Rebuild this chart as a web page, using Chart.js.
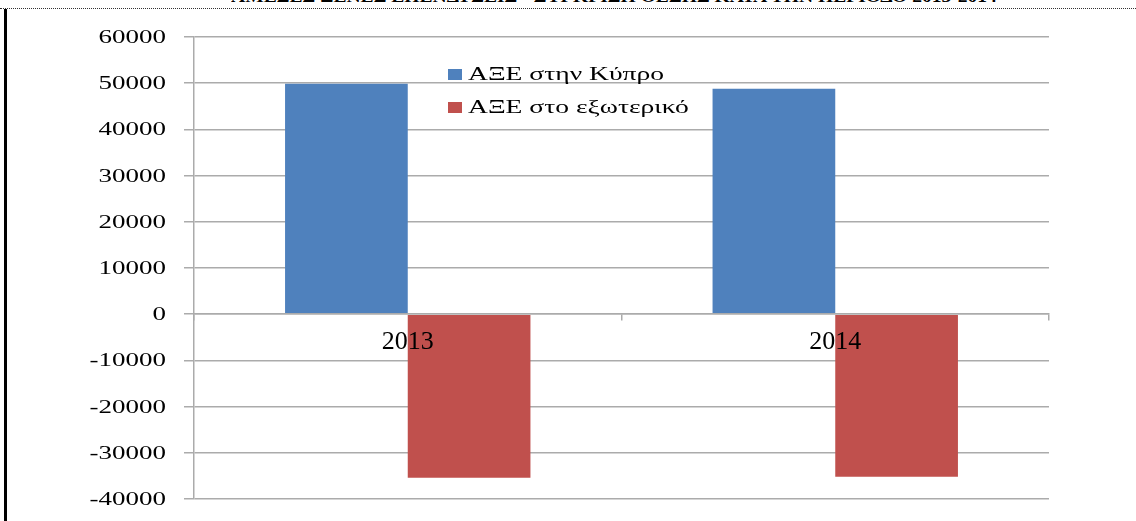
<!DOCTYPE html>
<html>
<head>
<meta charset="utf-8">
<script src="https://cdn.jsdelivr.net/npm/chart.js@4"></script>
<style>
  html, body { margin: 0; padding: 0; background: #fff; }
  body { width: 1136px; height: 521px; position: relative; overflow: hidden; }
  #title {
    position: absolute; left: 46px; width: 1136px; top: -12px;
    text-align: center; font: bold 17px "Liberation Serif", serif; line-height: 17px;
    color: #000; transform: scaleX(1.15); transform-origin: center top;
  }
  #dots { position: absolute; left: 0; top: 8px; width: 1136px; border-top: 1px dotted #333; }
  #bar { position: absolute; left: 4px; top: 9px; width: 3px; height: 512px; background: #000; }
  #wrap { position: absolute; left: 0; top: 0; width: 1136px; height: 521px; }
</style>
</head>
<body>
<div id="title">ΑΜΕΣΕΣ ΞΕΝΕΣ ΕΠΕΝΔΥΣΕΙΣ - ΣΥΓΚΡΙΣΗ ΘΕΣΗΣ ΚΑΤΑ ΤΗΝ ΠΕΡΙΟΔΟ 2013-2014</div>
<div id="dots"></div>
<div id="bar"></div>
<div id="wrap"><canvas id="chart"></canvas></div>
<script>
// Data
const years = ['2013', '2014'];
const fdiInCyprus = [49900, 48800];
const fdiAbroad = [-35400, -35200];
const seriesNames = ['ΑΞΕ στην Κύπρο', 'ΑΞΕ στο εξωτερικό'];

const gridGray = '#ababab';
const serif = '"Liberation Serif", "Times New Roman", serif';

// y labels in the picture are stretched sideways, so draw them by hand
const yLabels = {
    id: 'yLabels',
    afterDraw(chart) {
        const ctx = chart.ctx;
        const y = chart.scales.y;
        ctx.save();
        ctx.font = '19px ' + serif;
        ctx.fillStyle = '#000';
        ctx.textAlign = 'right';
        ctx.textBaseline = 'middle';
        y.ticks.forEach(t => {
            const py = y.getPixelForValue(t.value);
            ctx.save();
            ctx.translate(166, py);
            ctx.scale(1.42, 1);
            ctx.fillText(String(t.value), 0, 1);
            ctx.restore();
        });
        ctx.restore();
    }
};

// legend sits inside the plot, stacked
const insideLegend = {
    id: 'insideLegend',
    afterDraw(chart) {
        const ctx = chart.ctx;
        ctx.save();
        ctx.font = '19px ' + serif;
        ctx.textBaseline = 'middle';
        chart.data.datasets.forEach((ds, i) => {
            const cy = 75 + i * 33;
            ctx.fillStyle = ds.backgroundColor;
            ctx.fillRect(448, cy - 6, 14, 11);
            ctx.save();
            ctx.translate(468, cy);
            ctx.scale(1.45, 1);
            ctx.fillStyle = '#000';
            ctx.fillText(ds.label, 0, 0);
            ctx.restore();
        });
        ctx.restore();
    }
};

function draw() {
    new Chart(document.getElementById('chart').getContext('2d'), {
        type: 'bar',
        data: {
            labels: years,
            datasets: [
                { label: seriesNames[0], data: fdiInCyprus, backgroundColor: '#4F81BD' },
                { label: seriesNames[1], data: fdiAbroad, backgroundColor: '#C0504D' }
            ]
        },
        options: {
            responsive: true,
            maintainAspectRatio: false,
            animation: false,
            layout: { padding: { left: 0, right: 87, top: 37, bottom: 22 } },
            datasets: { bar: { categoryPercentage: 0.574, barPercentage: 1 } },
            scales: {
                x: {
                    position: { y: 0 },
                    afterFit(scale) { scale.height = 0; },
                    grid: { display: true, drawOnChartArea: false, offset: true, tickLength: 6, color: gridGray, lineWidth: 1.5 },
                    border: { color: gridGray, width: 1.5, z: 1 },
                    ticks: { color: '#000', font: { family: serif, size: 26 }, padding: 6, z: 1 }
                },
                y: {
                    min: -40000,
                    max: 60000,
                    afterFit(scale) { scale.width = 194; },
                    grid: { color: gridGray, lineWidth: 1.5, tickLength: 10 },
                    border: { color: gridGray, width: 1.5 },
                    ticks: { stepSize: 10000, display: false }
                }
            },
            plugins: {
                legend: { display: false },
                tooltip: { enabled: false }
            }
        },
        plugins: [yLabels, insideLegend]
    });
}

Promise.all([
    document.fonts.load('19px "Liberation Serif"', 'ΑΞΕ 0123'),
    document.fonts.load('26px "Liberation Serif"', '2013')
]).then(draw, draw);
</script>
</body>
</html>
